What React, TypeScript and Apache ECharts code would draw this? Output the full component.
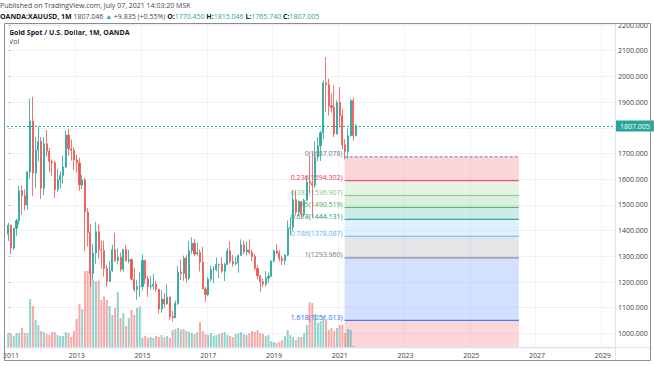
import React, { useEffect, useRef } from 'react';
import * as echarts from 'echarts';

// ---------- data ----------
const startYear = 2010;
const startMonth = 11; // December (0-based)
const monthCount = 222; // Dec 2010 .. May 2029
const categories: string[] = Array.from({ length: monthCount }, (_, i) => {
  const m = startMonth + i;
  const y = startYear + Math.floor(m / 12);
  return `${y}-${String((m % 12) + 1).padStart(2, '0')}`;
});
const yearLabels = ['2011', '2013', '2015', '2017', '2019', '2021', '2023', '2025', '2027', '2029'];

// monthly [open, high, low, close], Dec 2010 .. Jul 2021
const ohlc: number[][] = [
  [1386, 1431, 1360, 1421],
  [1421, 1424, 1309, 1332], [1332, 1411, 1324, 1409], [1409, 1447, 1380, 1439], [1439, 1575, 1423, 1556],
  [1556, 1577, 1462, 1536], [1536, 1561, 1478, 1500], [1500, 1632, 1480, 1628], [1628, 1913, 1603, 1826],
  [1826, 1921, 1534, 1624], [1624, 1764, 1567, 1713], [1713, 1804, 1669, 1747], [1747, 1764, 1523, 1565],
  [1565, 1763, 1538, 1738], [1738, 1791, 1688, 1709], [1709, 1721, 1627, 1669], [1669, 1677, 1612, 1664],
  [1664, 1670, 1527, 1560], [1560, 1641, 1550, 1598], [1598, 1631, 1564, 1615], [1615, 1692, 1583, 1648],
  [1648, 1790, 1643, 1772], [1772, 1796, 1692, 1719], [1719, 1755, 1673, 1712], [1712, 1724, 1635, 1675],
  [1675, 1695, 1626, 1663], [1663, 1684, 1555, 1578], [1578, 1617, 1562, 1597], [1597, 1606, 1321, 1472],
  [1472, 1488, 1338, 1393], [1393, 1424, 1180, 1234], [1234, 1348, 1208, 1313], [1313, 1434, 1271, 1396],
  [1396, 1424, 1292, 1327], [1327, 1361, 1251, 1323], [1323, 1361, 1221, 1253], [1253, 1267, 1182, 1202],
  [1202, 1280, 1202, 1244], [1244, 1345, 1239, 1326], [1326, 1392, 1277, 1284], [1284, 1331, 1268, 1296],
  [1296, 1315, 1240, 1250], [1250, 1326, 1240, 1327], [1327, 1345, 1280, 1283], [1283, 1325, 1273, 1287],
  [1287, 1292, 1207, 1211], [1211, 1256, 1161, 1171], [1171, 1209, 1131, 1182], [1182, 1238, 1142, 1183],
  [1183, 1307, 1167, 1284], [1284, 1287, 1192, 1213], [1213, 1224, 1142, 1183], [1183, 1224, 1170, 1184],
  [1184, 1232, 1170, 1191], [1191, 1205, 1162, 1172], [1172, 1174, 1077, 1095], [1095, 1170, 1080, 1134],
  [1134, 1157, 1099, 1115], [1115, 1191, 1112, 1142], [1142, 1142, 1052, 1065], [1065, 1088, 1046, 1061],
  [1061, 1128, 1062, 1117], [1117, 1263, 1110, 1238], [1238, 1287, 1208, 1233], [1233, 1303, 1205, 1293],
  [1293, 1304, 1199, 1215], [1215, 1359, 1207, 1322], [1322, 1375, 1310, 1351], [1351, 1367, 1301, 1309],
  [1309, 1352, 1302, 1315], [1315, 1326, 1241, 1277], [1277, 1337, 1171, 1173], [1173, 1181, 1122, 1151],
  [1151, 1220, 1146, 1211], [1211, 1264, 1201, 1249], [1249, 1261, 1195, 1249], [1249, 1295, 1241, 1268],
  [1268, 1272, 1214, 1269], [1269, 1296, 1236, 1242], [1242, 1274, 1204, 1269], [1269, 1331, 1265, 1321],
  [1321, 1358, 1272, 1280], [1280, 1306, 1260, 1271], [1271, 1299, 1263, 1275], [1275, 1307, 1236, 1303],
  [1303, 1366, 1302, 1345], [1345, 1361, 1307, 1318], [1318, 1356, 1303, 1325], [1325, 1366, 1309, 1315],
  [1315, 1326, 1282, 1299], [1299, 1309, 1246, 1253], [1253, 1265, 1211, 1224], [1224, 1225, 1160, 1201],
  [1201, 1214, 1180, 1192], [1192, 1243, 1182, 1215], [1215, 1237, 1196, 1222], [1222, 1284, 1221, 1282],
  [1282, 1326, 1276, 1321], [1321, 1347, 1309, 1313], [1313, 1324, 1281, 1292], [1292, 1302, 1266, 1283],
  [1283, 1306, 1267, 1305], [1305, 1439, 1300, 1409], [1409, 1453, 1382, 1413], [1413, 1555, 1400, 1520],
  [1520, 1557, 1459, 1472], [1472, 1518, 1459, 1513], [1513, 1516, 1445, 1463], [1463, 1525, 1455, 1518],
  [1518, 1611, 1517, 1589], [1589, 1690, 1547, 1585], [1585, 1704, 1451, 1577], [1577, 1748, 1567, 1687],
  [1687, 1765, 1670, 1730], [1730, 1789, 1671, 1781], [1781, 1984, 1757, 1975], [1975, 2075, 1863, 1968],
  [1968, 1992, 1848, 1886], [1886, 1933, 1860, 1879], [1879, 1966, 1764, 1776], [1776, 1907, 1775, 1898],
  [1898, 1959, 1802, 1847], [1847, 1872, 1717, 1734], [1734, 1756, 1677, 1708], [1708, 1798, 1678, 1769],
  [1769, 1913, 1766, 1906], [1906, 1917, 1750, 1770], [1770.45, 1815.046, 1765.74, 1807.005],
];

// monthly volume (thousands), Dec 2010 .. Jul 2021
const volumes: number[] = [
  150,
  140, 120, 150, 150, 200, 150, 150, 490, 420, 280, 230, 170,
  160, 140, 130, 160, 160, 130, 120, 120, 160, 150, 110, 170,
  290, 440, 390, 770, 770, 760, 680, 665, 675, 480, 515, 480,
  420, 330, 400, 560, 300, 350, 220, 300, 380, 330, 400, 415,
  100, 120, 100, 110, 100, 120, 110, 130, 110, 120, 100, 180,
  190, 200, 185, 190, 170, 160, 150, 140, 160, 260, 170, 140,
  130, 150, 120, 130, 140, 150, 160, 130, 120, 110, 140, 150,
  160, 140, 130, 150, 170, 160, 180, 150, 140, 120, 130, 70,
  60, 50, 60, 80, 120, 180, 130, 110, 80, 110, 110, 150,
  230, 460, 450, 340, 250, 270, 320, 280, 180, 200, 170, 200,
  230, 230, 150, 190, 180, 20,
];

const lastPrice = 1807.005;
const priceMin = 943.3;
const priceMax = 2204;
const volumeMax = 3240;
const hiddenTick = 1800; // covered by the last-price label

// Fibonacci retracement
const fibHigh = 1687.078;
const fibLow = 1293.96;
const fibRatios = [0, 0.236, 0.382, 0.5, 0.618, 0.786, 1, 1.618, 2.618];
const fibStartIdx = 122.8;
const fibEndIdx = 186.4;

// ---------- styles ----------
const fibColors = ['#787b86', '#f23645', '#81c784', '#4caf50', '#089981', '#64b5f6', '#787b86', '#2962ff', '#f23645'];
const UP = '#26a69a';
const DOWN = '#ef5350';
const FONT = '"Open Sans", "Noto Sans", sans-serif';
const TXT = '#3a3e4a';

const rgba = (hex: string, a: number) => {
  const n = parseInt(hex.slice(1), 16);
  return `rgba(${(n >> 16) & 255},${(n >> 8) & 255},${n & 255},${a})`;
};
const fibPrice = (r: number) => fibHigh - r * (fibHigh - fibLow);
const isLabelCat = (v: string) => v.endsWith('-01') && yearLabels.includes(v.slice(0, 4));

export default function App() {
  const ref = useRef<HTMLDivElement>(null);
  useEffect(() => {
    document.body.style.margin = '0';
    const chart = echarts.init(ref.current!, undefined, { renderer: 'svg' });
    const candleData = ohlc.map(([o, h, l, c]) => [o, c, l, h]);
    const volData = volumes.map((v, i) => ({
      value: v,
      itemStyle: { color: ohlc[i][3] >= ohlc[i][0] ? rgba(UP, 0.5) : rgba(DOWN, 0.5) },
    }));

    chart.setOption({
      animation: false,
      grid: { left: 4, right: 39, top: 24, bottom: 18 },
      xAxis: [
        {
          type: 'category',
          data: categories,
          boundaryGap: true,
          axisLine: { show: false },
          axisTick: { show: false, alignWithLabel: true },
          axisLabel: {
            interval: (_: number, v: string) => isLabelCat(v),
            formatter: (v: string) => v.slice(0, 4),
            fontSize: 7,
            fontFamily: FONT,
            color: TXT,
            margin: 4,
          },
          splitLine: {
            show: true,
            interval: (_: number, v: string) => isLabelCat(v),
            lineStyle: { color: '#f0f3fa', width: 1 },
          },
        },
        { type: 'value', show: false, position: 'top', min: -0.5, max: monthCount - 0.5 },
      ],
      yAxis: [
        {
          type: 'value',
          position: 'right',
          min: priceMin,
          max: priceMax,
          splitNumber: 12,
          minInterval: 100,
          maxInterval: 100,
          axisLine: { show: false },
          axisTick: { show: true, length: 3, lineStyle: { color: '#c8cad0' } },
          axisLabel: {
            formatter: (v: number) => (Math.abs(v - hiddenTick) < 0.01 ? '' : v.toFixed(3)),
            fontSize: 7,
            fontFamily: FONT,
            color: TXT,
            margin: 3,
            showMinLabel: false,
            showMaxLabel: false,
          },
          splitLine: { show: true, lineStyle: { color: '#f0f3fa', width: 1 } },
        },
        { type: 'value', show: false, min: 0, max: volumeMax },
      ],
      series: [
        {
          type: 'custom',
          name: 'fib',
          xAxisIndex: 1,
          yAxisIndex: 0,
          z: 1,
          data: fibRatios.slice(0, fibRatios.length - 1).map((_, i) => [i]),
          renderItem: (params: any, api: any) => {
            const i = api.value(0);
            const cs = params.coordSys;
            const r = fibRatios[i];
            const p = fibPrice(r);
            const x0 = api.coord([fibStartIdx, p])[0];
            const x1 = api.coord([fibEndIdx, p])[0];
            const y = api.coord([fibStartIdx, p])[1];
            const yn = Math.min(api.coord([fibStartIdx, fibPrice(fibRatios[i + 1])])[1], cs.y + cs.height);
            return {
              type: 'group',
              children: [
                {
                  type: 'rect',
                  shape: { x: x0, y, width: x1 - x0, height: yn - y },
                  style: { fill: rgba(fibColors[i + 1], 0.2) },
                },
                {
                  type: 'line',
                  shape: { x1: x0, y1: y, x2: x1, y2: y },
                  style: { stroke: fibColors[i], lineWidth: 1, lineDash: i === 0 ? [3, 2] : null },
                },
                {
                  type: 'text',
                  style: {
                    text: `${r}(${p.toFixed(3)})`,
                    x: x0 - 2,
                    y: y - 3,
                    align: 'right',
                    verticalAlign: 'middle',
                    fill: fibColors[i],
                    font: `7px ${FONT}`,
                  },
                },
              ],
            };
          },
        },
        {
          type: 'bar',
          name: 'Vol',
          xAxisIndex: 0,
          yAxisIndex: 1,
          z: 2,
          barWidth: '72%',
          data: volData,
        },
        {
          type: 'candlestick',
          name: 'XAUUSD',
          xAxisIndex: 0,
          yAxisIndex: 0,
          z: 3,
          barWidth: 1.6,
          data: candleData,
          itemStyle: { color: UP, color0: DOWN, borderColor: UP, borderColor0: DOWN, borderWidth: 0.8 },
          markLine: {
            symbol: 'none',
            silent: true,
            data: [{ yAxis: lastPrice }],
            lineStyle: { color: UP, type: [2, 2], width: 1 },
            label: {
              show: true,
              position: 'end',
              distance: 1,
              formatter: lastPrice.toFixed(3),
              backgroundColor: UP,
              color: '#ffffff',
              fontSize: 7,
              fontFamily: FONT,
              padding: [2, 4, 2, 4],
            },
          },
        },
      ],
      graphic: [
        {
          type: 'line',
          shape: { x1: 615.5, y1: 24, x2: 615.5, y2: 361 },
          style: { stroke: '#e0e3eb', lineWidth: 1 },
          z: 5,
        },
        {
          type: 'line',
          shape: { x1: 4, y1: 347.5, x2: 651, y2: 347.5 },
          style: { stroke: '#e0e3eb', lineWidth: 1 },
          z: 5,
        },
        {
          type: 'rect',
          shape: { x: 4.5, y: 23.5, width: 646, height: 337 },
          style: { fill: 'none', stroke: '#8c8c8c', lineWidth: 1 },
          z: 6,
        },
        {
          type: 'text',
          x: 0,
          y: 5,
          style: {
            text: 'Published on TradingView.com, July 07, 2021 14:03:20 MSK',
            fill: '#434651',
            font: `7px ${FONT}`,
            verticalAlign: 'middle',
          },
        },
        {
          type: 'text',
          x: 0,
          y: 16,
          style: {
            text:
              '{b|OANDA:XAUUSD, 1M} {n|1807.046} {g|▲} {n|+9.835 (+0.55%)} {b|O:}{g|1770.450} {b|H:}{g|1815.046} {b|L:}{g|1765.740} {b|C:}{g|1807.005}',
            verticalAlign: 'middle',
            font: `7px ${FONT}`,
            rich: {
              b: { fontWeight: 'bold', fill: '#131722', fontSize: 7, fontFamily: FONT },
              n: { fill: '#434651', fontSize: 7, fontFamily: FONT },
              g: { fill: UP, fontSize: 7, fontFamily: FONT },
            },
          },
        },
        {
          type: 'text',
          x: 9,
          y: 32.5,
          style: {
            text: 'Gold Spot / U.S. Dollar, 1M, OANDA',
            fill: '#131722',
            font: `bold 7px ${FONT}`,
            verticalAlign: 'middle',
          },
        },
        {
          type: 'text',
          x: 9,
          y: 41.5,
          style: { text: 'Vol', fill: '#434651', font: `7px ${FONT}`, verticalAlign: 'middle' },
        },
      ],
    });
    return () => chart.dispose();
  }, []);
  return <div ref={ref} style={{ width: 654, height: 366 }} />;
}
